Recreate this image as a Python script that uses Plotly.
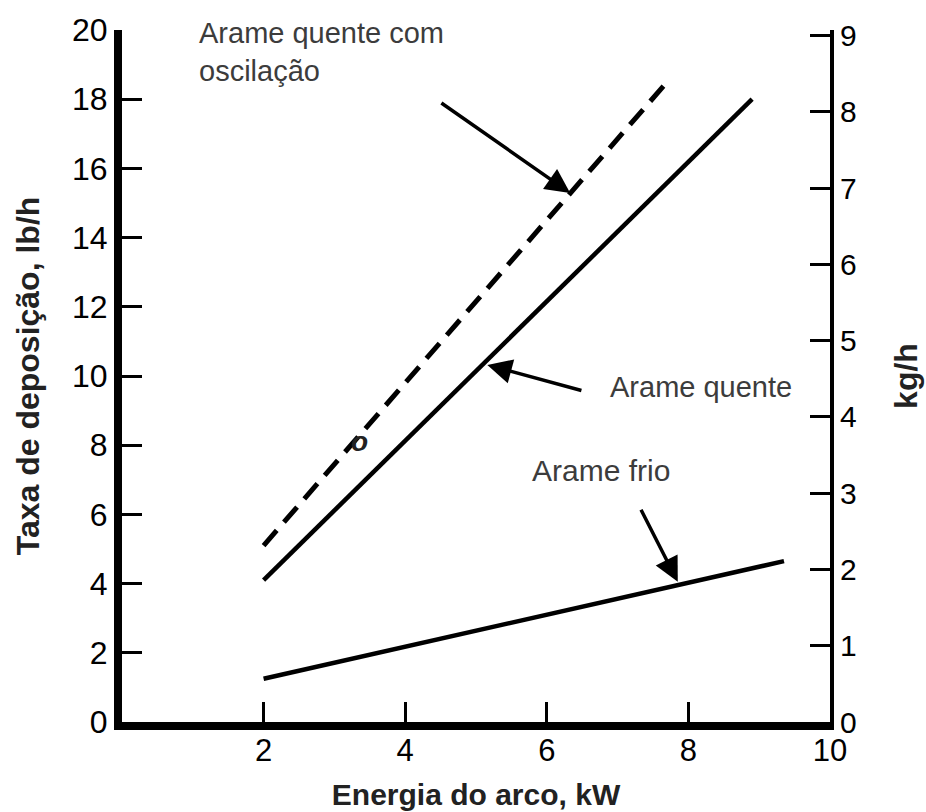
import plotly.graph_objects as go

# ---- data ----
energia_osc = [2.0, 7.7]      # kW
taxa_osc = [5.1, 18.5]        # lb/h  (Arame quente com oscilação, dashed)
energia_quente = [2.0, 8.9]
taxa_quente = [4.1, 18.0]     # lb/h  (Arame quente)
energia_frio = [2.0, 9.35]
taxa_frio = [1.25, 4.65]      # lb/h  (Arame frio)

x_ticks = [2, 4, 6, 8, 10]
y_ticks_lb = [0, 2, 4, 6, 8, 10, 12, 14, 16, 18, 20]
y_ticks_kg = [0, 1, 2, 3, 4, 5, 6, 7, 8, 9]
LB_TO_KG = 0.45359237

FONT = "Liberation Sans, Arial, sans-serif"
TXT = "#3c3c3c"

fig = go.Figure()
fig.add_trace(go.Scatter(x=energia_osc, y=taxa_osc, mode="lines",
                         line=dict(color="black", width=5, dash="20px,11px"),
                         showlegend=False, hoverinfo="skip"))
fig.add_trace(go.Scatter(x=energia_quente, y=taxa_quente, mode="lines",
                         line=dict(color="black", width=4.5),
                         showlegend=False, hoverinfo="skip"))
fig.add_trace(go.Scatter(x=energia_frio, y=taxa_frio, mode="lines",
                         line=dict(color="black", width=4.5),
                         showlegend=False, hoverinfo="skip"))
# invisible trace to activate right axis
fig.add_trace(go.Scatter(x=[None], y=[None], yaxis="y2", showlegend=False, hoverinfo="skip"))

annotations = [
    dict(text="Arame quente com<br>oscilação", x=1.06, y=1.022, xref="x", yref="paper",
         xanchor="left", yanchor="top", align="left", showarrow=False,
         font=dict(family=FONT, size=29, color=TXT)),
    dict(text="Arame quente", x=6.86, y=9.68, xref="x", yref="y",
         xanchor="left", yanchor="middle", showarrow=False,
         font=dict(family=FONT, size=29, color=TXT)),
    dict(text="Arame frio", x=5.76, y=7.28, xref="x", yref="y",
         xanchor="left", yanchor="middle", showarrow=False,
         font=dict(family=FONT, size=30, color=TXT)),
    dict(text="<i><b>o</b></i>", x=3.36, y=8.12, xref="x", yref="y",
         xanchor="center", yanchor="middle", showarrow=False,
         font=dict(family=FONT, size=28, color="#222")),
]
arrows = [
    ((6.33, 15.29), (4.49, 17.92)),
    ((5.16, 10.32), (6.51, 9.57)),
    ((7.85, 4.05), (7.32, 6.18)),
]
for (hx, hy), (tx, ty) in arrows:
    annotations.append(dict(text="", x=hx, y=hy, ax=tx, ay=ty, xref="x", yref="y",
                            axref="x", ayref="y", showarrow=True, arrowhead=2,
                            arrowsize=1.4, arrowwidth=3.5, arrowcolor="black",
                            standoff=0, startstandoff=0))

fig.update_layout(
    width=926, height=812,
    margin=dict(l=122, r=96, t=30, b=90, autoexpand=False),
    paper_bgcolor="white", plot_bgcolor="white",
    font=dict(family=FONT, color="black"),
    xaxis=dict(range=[0, 10], tickvals=x_ticks, ticktext=[str(v) for v in x_ticks],
               showgrid=False, zeroline=False, showline=True, linecolor="black",
               linewidth=8, ticks="inside", ticklen=20, tickwidth=3, tickcolor="black",
               ticklabelstandoff=-6,
               tickfont=dict(family=FONT, size=31, color="#000"),
               title=dict(text="<b>Energia do arco, kW</b>", standoff=20,
                          font=dict(family=FONT, size=30, color="#222"))),
    yaxis=dict(range=[0, 20], tickvals=y_ticks_lb, ticktext=[str(v) for v in y_ticks_lb],
               showgrid=False, zeroline=False, showline=True, linecolor="black",
               linewidth=8, ticks="inside", ticklen=20, tickwidth=3, tickcolor="black",
               tickfont=dict(family=FONT, size=32, color="#000"),
               title=dict(text="<b>Taxa de deposição, lb/h</b>", standoff=26,
                          font=dict(family=FONT, size=32, color="#222"))),
    yaxis2=dict(range=[0, 20 * LB_TO_KG], overlaying="y", side="right",
                tickvals=y_ticks_kg, ticktext=[str(v) for v in y_ticks_kg],
                showgrid=False, zeroline=False, showline=True, linecolor="black",
                linewidth=4, ticks="inside", ticklen=20, tickwidth=3, tickcolor="black",
                tickfont=dict(family=FONT, size=30, color="#000"),
                title=dict(text="<b>kg/h</b>", standoff=40,
                           font=dict(family=FONT, size=32, color="#222"))),
    annotations=annotations,
    showlegend=False,
)

fig.write_html("out.html")
